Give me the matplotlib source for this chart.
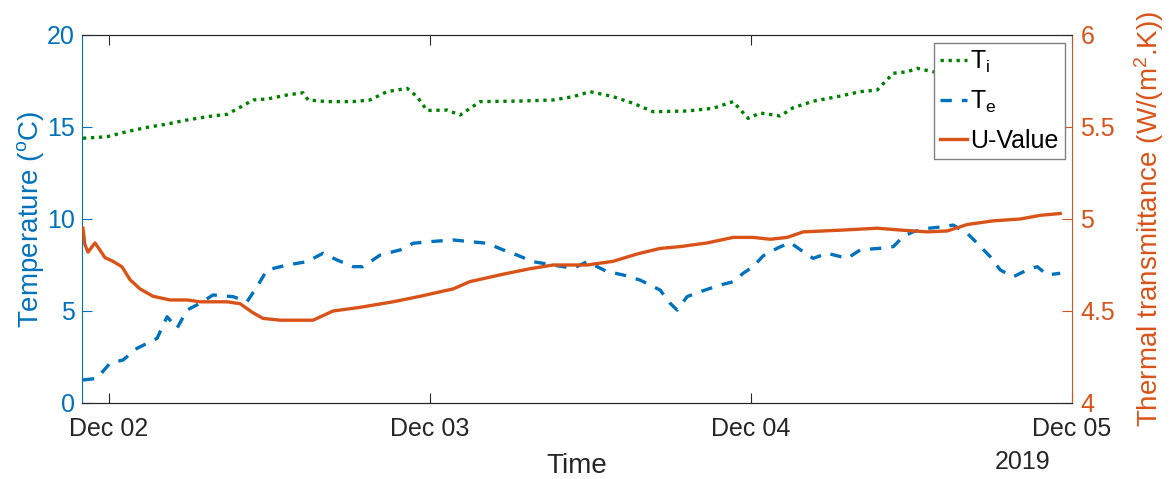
import matplotlib
matplotlib.use('Agg')
import numpy as np
import pandas as pd
import matplotlib.pyplot as plt
from matplotlib import dates
from matplotlib.ticker import FormatStrFormatter

plt.rcParams['font.family'] = ['Liberation Sans', 'DejaVu Sans']
plt.rcParams['mathtext.fontset'] = 'custom'
plt.rcParams['mathtext.rm'] = 'Liberation Sans'
plt.rcParams['mathtext.it'] = 'Liberation Sans:italic'

START = pd.Timestamp('2019-12-01 00:00')

# hours since Dec 01 00:00 and readings
ti_hours = [22.07, 23.87, 25.36, 26.86, 28.36, 29.85, 31.35, 32.84, 33.81, 34.79,
            35.83, 37.33, 38.52, 38.90, 40.32, 42.26, 43.53, 44.80, 46.30, 47.05,
            47.79, 49.29, 50.26, 51.76, 54.75, 57.21, 58.71, 59.98, 61.70, 63.20,
            64.69, 67.23, 69.18, 70.67, 71.79, 72.69, 74.19, 75.16, 76.65, 78.67,
            80.17, 81.44, 82.64, 83.68, 84.43, 85.63, 88.0, 91.0, 95.12]
ti_values = [14.39, 14.47, 14.75, 14.98, 15.16, 15.38, 15.56, 15.69, 16.07, 16.47,
             16.52, 16.74, 16.86, 16.47, 16.38, 16.38, 16.47, 16.92, 17.10, 16.65,
             15.90, 15.92, 15.65, 16.38, 16.41, 16.47, 16.65, 16.92, 16.65, 16.29,
             15.83, 15.87, 16.02, 16.38, 15.47, 15.76, 15.60, 16.05, 16.40, 16.68,
             16.92, 17.01, 17.92, 18.00, 18.19, 18.00, 18.0, 18.0, 18.0]

te_hours = [22.07, 23.12, 24.09, 25.07, 26.11, 27.61, 28.36, 29.10, 29.85, 30.82,
            31.79, 33.29, 34.34, 35.08, 35.83, 37.33, 38.82, 40.02, 41.07, 42.26,
            43.01, 44.28, 45.78, 46.75, 48.02, 49.74, 52.28, 53.48, 54.52, 55.72,
            57.21, 58.71, 59.76, 61.25, 62.45, 63.72, 65.21, 65.96, 66.49, 67.23,
            68.21, 69.70, 70.67, 71.42, 72.17, 72.92, 73.96, 74.93, 75.91, 76.65,
            77.70, 79.20, 80.17, 81.66, 82.64, 83.38, 84.13, 85.18, 86.37, 87.12,
            88.17, 88.92, 89.89, 90.64, 91.61, 92.65, 93.40, 94.15, 95.12]
te_values = [1.25, 1.34, 2.16, 2.34, 2.97, 3.51, 4.69, 4.06, 5.05, 5.42,
             5.87, 5.78, 5.51, 6.32, 7.23, 7.50, 7.68, 8.14, 7.77, 7.41,
             7.41, 8.04, 8.32, 8.68, 8.77, 8.86, 8.68, 8.32, 8.04, 7.68,
             7.50, 7.32, 7.68, 7.14, 6.96, 6.68, 6.14, 5.42, 5.05, 5.78,
             6.05, 6.41, 6.59, 7.05, 7.41, 8.00, 8.41, 8.72, 8.22, 7.86,
             8.14, 7.86, 8.32, 8.41, 8.50, 9.04, 9.31, 9.49, 9.58, 9.67,
             9.22, 8.68, 7.95, 7.23, 6.86, 7.23, 7.41, 6.96, 7.05]

u_hours = [22.07, 22.22, 22.45, 22.97, 23.35, 23.72, 24.32, 24.99, 25.59, 26.34,
           27.31, 28.58, 29.85, 30.82, 32.84, 33.81, 34.79, 35.53, 36.80, 39.27,
           40.77, 42.79, 45.25, 47.27, 49.74, 51.01, 53.48, 55.50, 57.21, 59.76,
           61.70, 63.50, 65.21, 66.71, 68.73, 70.67, 72.17, 73.44, 74.71, 75.91,
           78.90, 81.44, 83.16, 85.18, 86.67, 88.17, 90.11, 92.13, 93.63, 95.12]
u_values = [4.95, 4.86, 4.82, 4.87, 4.83, 4.79, 4.77, 4.74, 4.67, 4.62,
            4.58, 4.56, 4.56, 4.55, 4.55, 4.54, 4.49, 4.46, 4.45, 4.45,
            4.50, 4.52, 4.55, 4.58, 4.62, 4.66, 4.70, 4.73, 4.75, 4.75,
            4.77, 4.81, 4.84, 4.85, 4.87, 4.90, 4.90, 4.89, 4.90, 4.93,
            4.94, 4.95, 4.94, 4.93, 4.935, 4.97, 4.99, 5.00, 5.02, 5.03]

BLUE = '#0072BD'
ORANGE = '#D95319'
GREEN = '#008000'
DARK = '#262626'


def to_time(hours):
    return START + pd.to_timedelta(np.array(hours), unit='h')


fig = plt.figure(figsize=(11.7, 4.79), dpi=100)
ax = fig.add_axes([82 / 1170, 1 - 403 / 479, 990 / 1170, 368 / 479])
ax2 = ax.twinx()

l_ti, = ax.plot(to_time(ti_hours), ti_values, color=GREEN, lw=2.4,
                linestyle=(0, (1, 1.4)), label=r'$\mathregular{T_i}$')
l_te, = ax.plot(to_time(te_hours), te_values, color=BLUE, lw=2.4,
                linestyle=(0, (3.4, 3.0)), label=r'$\mathregular{T_e}$')
l_u, = ax2.plot(to_time(u_hours), u_values, color=ORANGE, lw=2.4,
                label='U-Value')

ax.set_xlim(pd.Timestamp('2019-12-01 22:00'), pd.Timestamp('2019-12-05 00:00'))
ax.set_ylim(0, 20)
ax.set_yticks([0, 5, 10, 15, 20])
ax2.set_ylim(4, 6)
ax2.set_yticks([4, 4.5, 5, 5.5, 6])
ax2.yaxis.set_major_formatter(FormatStrFormatter('%g'))

ax.xaxis.set_major_locator(dates.DayLocator())
ax.xaxis.set_major_formatter(dates.DateFormatter('%b %d'))

ax.tick_params(axis='x', direction='in', length=7, width=0.8, colors=DARK,
               labelsize=18, pad=10, top=True)
ax.tick_params(axis='y', direction='in', length=7, width=0.8, colors=BLUE,
               labelsize=18, pad=5)
ax2.tick_params(axis='y', direction='in', length=7, width=0.8, colors=ORANGE,
                labelsize=18, pad=6)

ax.spines['left'].set_color(BLUE)
ax.spines['right'].set_visible(False)
ax.spines['top'].set_color(DARK)
ax.spines['bottom'].set_color(DARK)
ax2.spines['right'].set_color(ORANGE)
ax2.spines['left'].set_visible(False)
ax2.spines['top'].set_color(DARK)
ax2.spines['bottom'].set_color(DARK)

ax.set_ylabel(r'Temperature ($\mathregular{^o}$C)', fontsize=20, color=BLUE, labelpad=1)
ax2.set_ylabel(r'Thermal transmittance (W/(m$\mathregular{^2}$.K))', fontsize=20,
               color=ORANGE, labelpad=12)
ax.set_xlabel('Time', fontsize=20, color=DARK, labelpad=9)
fig.text(1023 / 1170, 1 - 462 / 479, '2019', fontsize=18, color=DARK,
         ha='center', va='center')

leg = ax2.legend(handles=[l_ti, l_te, l_u], loc='upper right', fontsize=18,
                 frameon=True, fancybox=False, framealpha=1, edgecolor='#808080',
                 handlelength=1.1, handletextpad=0.1, borderpad=0.25,
                 labelspacing=0.55, borderaxespad=0.3)
leg.get_frame().set_linewidth(1.0)

fig.savefig('out.png', dpi=100)
